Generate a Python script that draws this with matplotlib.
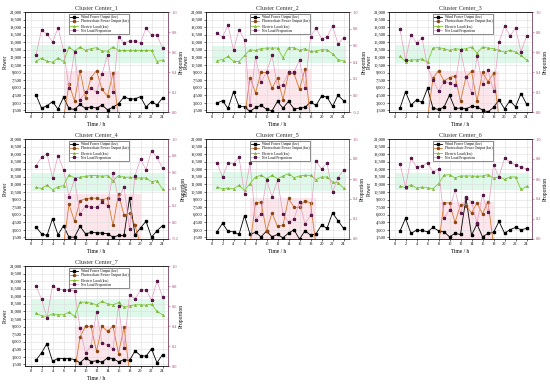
import numpy as np
import matplotlib
matplotlib.use("Agg")
import matplotlib.pyplot as plt

plt.rcParams['font.family'] = ['Liberation Serif', 'DejaVu Serif']

hours = list(range(1, 25))

# wind power output (kw)
wind_1 = [4590, 1970, 2440, 3250, 1770, 4120, 1900, 1700, 2710, 1900, 2240, 1970,
          2580, 1630, 2170, 2840, 4190, 3790, 3790, 4260, 2170, 3250, 2580, 3990]
wind_2 = [2980, 3450, 1900, 5200, 2300, 2240, 1300, 2100, 2500, 1770, 1430, 3300,
          1970, 3300, 1840, 1970, 2100, 3180, 2500, 4320, 4190, 2300, 4530, 3450]
wind_3 = [1970, 5200, 2580, 3580, 3110, 5870, 1970, 1700, 2170, 4530, 1900, 1970,
          1840, 2310, 2240, 1570, 1230, 2100, 3580, 1840, 3450, 2240, 4860, 2780]
wind_4 = [3580, 2240, 1900, 5250, 2040, 3850, 1570, 1570, 3710, 2240, 2500, 2440,
          2370, 2240, 1570, 1900, 1900, 9300, 2040, 3380, 4720, 1570, 2840, 3850]
wind_5 = [2630, 4300, 2700, 2630, 2100, 5830, 2170, 2500, 1630, 2760, 1630, 2100,
          1430, 2370, 3030, 1170, 2830, 1970, 2230, 3960, 3300, 6360, 4830, 3300]
wind_6 = [2760, 5290, 2300, 2960, 2900, 2630, 3500, 2830, 2630, 1630, 2300, 2100,
          9290, 1970, 4160, 1630, 2300, 2500, 4690, 2370, 3030, 3500, 3030, 3300]
wind_7 = [2350, 3800, 5640, 2160, 2680, 2680, 2680, 2480, 1830, 2810, 2090, 2220,
          1960, 2810, 2680, 2030, 2480, 2290, 4190, 3270, 3140, 4590, 1830, 3470]

# photovoltaic power output (kw)
pv_1 = [0, 0, 0, 0, 0, 0, 6680, 3450, 9370, 3990, 8020, 9370,
        5670, 4320, 8900, 0, 0, 0, 0, 0, 0, 0, 0, 0]
pv_2 = [0, 0, 0, 0, 0, 0, 8020, 5000, 9030, 9030, 5870, 8020,
        3650, 8830, 8830, 5670, 9700, 0, 0, 0, 0, 0, 0, 0]
pv_3 = [0, 0, 0, 0, 0, 0, 7890, 9370, 7350, 8020, 8360, 3320,
        8150, 9230, 3320, 9030, 7220, 8830, 0, 0, 0, 0, 0, 0]
pv_4 = [0, 0, 0, 0, 0, 0, 8070, 4720, 8740, 9210, 9270, 9270,
        8940, 9270, 3910, 10080, 5920, 6260, 3910, 0, 0, 0, 0, 0]
pv_5 = [0, 0, 0, 0, 0, 0, 0, 8350, 8490, 2760, 6360, 3700,
        3960, 9290, 7490, 7490, 8820, 8290, 0, 0, 0, 0, 0, 0]
pv_6 = [0, 0, 0, 0, 0, 0, 0, 0, 8350, 8350, 4490, 7950,
        7820, 6360, 8350, 6160, 8620, 0, 0, 0, 0, 0, 0, 0]
pv_7 = [0, 0, 0, 0, 0, 0, 0, 0, 6950, 9050, 9050, 4130,
        9050, 8070, 9050, 3670, 8920, 0, 0, 0, 0, 0, 0, 0]

# electric load (kw)
load_1 = [11250, 11860, 11250, 11050, 11860, 11180, 14000, 13270, 14070, 13400, 13740, 13940,
          13270, 13270, 14070, 13400, 13400, 13400, 13400, 13400, 13400, 13400, 11180, 11520]
load_2 = [11380, 11590, 12190, 11250, 11180, 12390, 13530, 13400, 13740, 13870, 13870, 13870,
          11920, 13940, 13940, 13400, 13740, 13200, 13270, 13530, 13530, 12730, 11590, 11320]
load_3 = [12260, 11180, 11520, 11520, 11720, 11050, 13870, 13940, 13740, 13400, 13740, 13600,
          13740, 14070, 12870, 14070, 13870, 13740, 13400, 13070, 13400, 13070, 12390, 11520]
load_4 = [11420, 11220, 11890, 10950, 11550, 11750, 13900, 13290, 13430, 13630, 13760, 13760,
          13630, 13760, 12760, 13760, 13430, 13430, 13230, 13290, 13290, 12560, 12760, 11080]
load_5 = [11480, 11150, 11280, 11150, 11820, 10820, 12150, 13480, 13810, 13150, 13810, 13150,
          13680, 14140, 13350, 13680, 13810, 13810, 12950, 13480, 13480, 12480, 12350, 11280]
load_6 = [11680, 11350, 11950, 11280, 11480, 11350, 11150, 12150, 13810, 13950, 13280, 13680,
          13680, 13680, 13610, 13680, 13950, 13280, 13480, 13010, 13480, 13480, 11010, 11620]
load_7 = [11680, 11150, 11020, 11550, 11350, 11350, 11870, 11020, 13840, 13840, 13650, 13320,
          13980, 13520, 13320, 13780, 12860, 13120, 13320, 13320, 13250, 13450, 12010, 11350]

# net load proportion
prop_1 = [0.57, 0.82, 0.78, 0.70, 0.84, 0.62, 0.24, 0.60, 0.12, 0.20, 0.24, 0.20,
          0.38, 0.57, 0.20, 0.75, 0.69, 0.71, 0.71, 0.69, 0.84, 0.77, 0.77, 0.64]
prop_2 = [0.75, 0.70, 0.84, 0.54, 0.79, 0.66, -0.11, 0.46, 0.16, 0.28, 0.48, 0.10,
          0.13, 0.28, 0.28, 0.42, 0.09, 0.70, 0.81, 0.68, 0.70, 0.83, 0.62, 0.69]
prop_3 = [0.83, 0.52, 0.77, 0.69, 0.74, 0.45, 0.32, 0.21, 0.30, 0.29, 0.27, 0.62,
          0.35, 0.19, 0.56, 0.28, 0.42, 0.21, 0.70, 0.86, 0.76, 0.84, 0.60, 0.76]
prop_4 = [0.68, 0.78, 0.82, 0.53, 0.80, 0.63, 0.31, 0.52, 0.10, 0.20, 0.18, 0.18,
          0.24, 0.20, 0.59, 0.28, 0.43, -0.08, 0.56, 0.76, 0.63, 0.86, 0.78, 0.65]
prop_5 = [0.76, 0.62, 0.76, 0.75, 0.82, 0.45, 0.76, 0.19, 0.25, 0.59, 0.42, 0.59,
          0.25, 0.17, 0.20, 0.37, 0.15, 0.24, 0.78, 0.70, 0.76, 0.47, 0.61, 0.69]
prop_6 = [0.75, 0.52, 0.81, 0.72, 0.73, 0.76, 0.67, 0.70, 0.21, 0.29, 0.49, 0.26,
          0.42, 0.37, 0.16, 0.44, 0.27, 0.74, 0.62, 0.81, 0.77, 0.74, 0.72, 0.70]
prop_7 = [0.80, 0.67, 0.48, 0.80, 0.77, 0.76, 0.76, 0.75, 0.38, 0.13, 0.20, 0.54,
          0.23, 0.21, 0.17, 0.60, 0.18, 0.71, 0.67, 0.76, 0.76, 0.66, 0.85, 0.69]

winds = [wind_1, wind_2, wind_3, wind_4, wind_5, wind_6, wind_7]
pvs = [pv_1, pv_2, pv_3, pv_4, pv_5, pv_6, pv_7]
loads = [load_1, load_2, load_3, load_4, load_5, load_6, load_7]
props = [prop_1, prop_2, prop_3, prop_4, prop_5, prop_6, prop_7]
prop_low = [0.0, -0.2, 0.0, -0.2, 0.0, 0.0, 0.0]

power_ticks = list(range(1500, 21001, 1500))
hour_ticks = list(range(0, 25, 2))

c_wind = 'black'
c_pv = '#d9782d'
c_pv_m = '#8b4513'
c_load = '#7ccd2f'
c_prop = '#e89ac0'
c_prop_m = '#5a1a4a'
c_right = '#a8507e'

# axes positions in pixels (left, top) of each panel
lefts = [25, 206, 389]
tops = [12, 139, 266]
W, H = 550, 384
pw, ph = 143, 100

fig = plt.figure(figsize=(5.5, 3.84), dpi=100)

for i in range(7):
    r, c = divmod(i, 3)
    ax = fig.add_axes([lefts[c] / W, 1 - (tops[r] + ph) / H, pw / W, ph / H])
    ax2 = ax.twinx()

    wind, pv, load, prop = winds[i], pvs[i], loads[i], props[i]

    # shaded bands
    ax.fill_between([0, 24.5], min(load) - 200, max(load) + 400,
                    color='#c8f5dc', alpha=0.6, lw=0, zorder=0)
    day = [h for h, v in zip(hours, pv) if v > 0]
    day_x = [day[0] - 1] + day + [day[-1] + 1]
    ax.fill_between(day_x, 0, max(pv), color='#fbd3dc', alpha=0.55, lw=0, zorder=0)

    l1, = ax.plot(hours, wind, color=c_wind, marker='s', ms=1.6, lw=0.6,
                  label='Wind Power Output (kw)', zorder=3)
    l2, = ax.plot(hours, pv, color=c_pv, marker='o', ms=1.5, mfc=c_pv_m, mec=c_pv_m,
                  lw=0.6, label='Photovoltaic Power Output (kw)', zorder=3)
    l3, = ax.plot(hours, load, color=c_load, marker='^', ms=1.6, mfc='#9acd32', mec='#6b8e23',
                  mew=0.3, lw=0.6, label='Electric Load (kw)', zorder=3)
    l4, = ax2.plot(hours, prop, color=c_prop, marker='*', ms=2.2, mfc=c_prop_m, mec=c_prop_m,
                   lw=0.5, label='Net Load Proportion', zorder=3)

    ax.set_xlim(-1, 25)
    ax.set_ylim(1200, 21000)
    ax.set_xticks(hour_ticks)
    ax.set_yticks(power_ticks)
    ax.set_yticklabels([f'{v:,}' for v in power_ticks])
    ax.grid(True, color='#dddddd', lw=0.4)
    ax.set_axisbelow(True)

    lo = prop_low[i]
    ax2.set_ylim(lo, 1.0)
    ax2.set_yticks(np.round(np.arange(lo, 1.0001, 0.2), 1))
    ax2.set_yticklabels([f'{v:.1f}' for v in np.arange(lo, 1.0001, 0.2)])
    ax2.tick_params(axis='y', colors=c_right)

    for a in (ax, ax2):
        a.tick_params(labelsize=3.2, length=1.5, width=0.4, pad=1)
        for s in a.spines.values():
            s.set_linewidth(0.4)
    ax2.spines['right'].set_color(c_right)

    ax.set_title(f'Cluster Center_{i + 1}', fontsize=4.5, pad=2, color='#333333')
    ax.set_xlabel('Time / h', fontsize=4, labelpad=1.5)
    ax.set_ylabel('Power', fontsize=4, labelpad=1.5)
    ax2.set_ylabel('Proportion', fontsize=4, labelpad=1.5)

    leg = ax.legend(handles=[l1, l2, l3, l4], loc='upper center', bbox_to_anchor=(0.52, 1.0),
                    fontsize=2.6, frameon=True, fancybox=False, edgecolor='black',
                    handlelength=2.0, borderpad=0.3, labelspacing=0.15)
    leg.get_frame().set_linewidth(0.4)
    leg.set_zorder(5)

fig.savefig('out.png', dpi=100)
